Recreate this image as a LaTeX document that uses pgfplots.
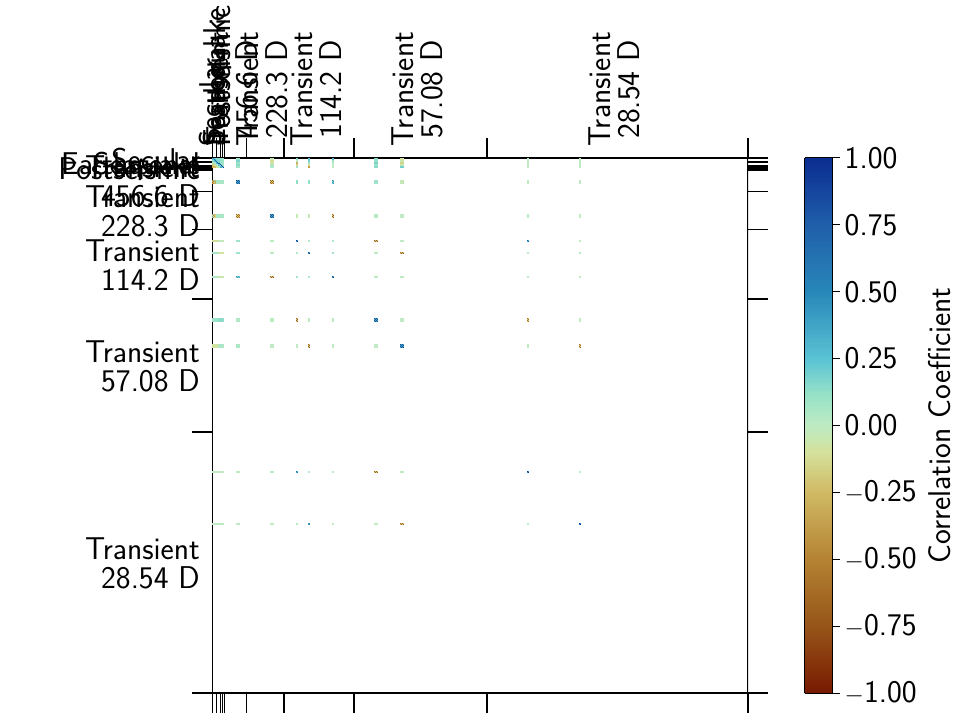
\documentclass[border=0pt]{standalone}
\usepackage{fontspec}
\usepackage{pgfplots}
\pgfplotsset{compat=1.18}
\renewcommand{\familydefault}{\sfdefault}
\newcommand{\lab}{\sffamily\fontsize{31.5}{29}\selectfont}

% block marks: size comes from the table, 1 unit is 1 pixel
\pgfdeclareplotmark{cell}{%
  \pgfpathrectangle{\pgfpoint{-0.5*\cellw pt}{-0.5*\cellh pt}}{\pgfpoint{\cellw pt}{\cellh pt}}%
  \pgfusepathqfill}
\pgfdeclareplotmark{pix}{%
  \pgfpathrectangle{\pgfpoint{-0.5pt}{-0.5pt}}{\pgfpoint{1pt}{1pt}}%
  \pgfusepathqfill}

\begin{document}
\begin{tikzpicture}
\path[use as bounding box] (0,0) rectangle (960pt,720pt);
\begin{axis}[
  at={(212pt,27pt)}, anchor=south west,
  scale only axis, width=536pt, height=535pt,
  xmin=0, xmax=536, ymin=0, ymax=535, y dir=reverse,
  axis line style={draw=none},
  tick pos=both, xticklabel pos=top, yticklabel pos=left,
  tick align=outside,
  major tick length=20pt, minor tick length=20pt,
  xtick={72,142,275,536}, xticklabels={},
  ytick={0,4,8,10,12,141,274,535}, yticklabels={},
  minor xtick={0.5,4.5,8.5,10.5,12.5,34.5},
  minor ytick={33.5,71.5},
  major tick style={black, line width=2pt},
  minor tick style={black, line width=1pt},
  extra x ticks={2,6,9,11,23,53,107,208.5,405.5},
  extra x tick labels={Secular,Seasonal,Earthquake,Postseismic,{Transient\\456.6 D},{Transient\\228.3 D},{Transient\\114.2 D},{Transient\\57.08 D},{Transient\\28.54 D}},
  extra x tick style={tick style={draw=none}, xticklabel style={rotate=90, anchor=west, align=center, font=\lab, inner sep=0pt, xshift=-9pt, yshift=3pt}},
  extra y ticks={2,6,9,11,23,53,107,208,405},
  extra y tick labels={Secular,Seasonal,Earthquake,Postseismic,{Transient\\456.6 D},{Transient\\228.3 D},{Transient\\114.2 D},{Transient\\57.08 D},{Transient\\28.54 D}},
  extra y tick style={tick style={draw=none}, yticklabel style={anchor=east, align=right, font=\lab, inner sep=0pt, xshift=8pt}},
  colormap={corr}{
    rgb255(0pt)=(120,25,0);
    rgb255(25pt)=(150,85,25);
    rgb255(50pt)=(180,130,50);
    rgb255(75pt)=(208,185,100);
    rgb255(90pt)=(212,225,155);
    rgb255(100pt)=(190,235,195);
    rgb255(112pt)=(150,225,200);
    rgb255(125pt)=(90,195,212);
    rgb255(150pt)=(40,135,185);
    rgb255(175pt)=(32,95,170);
    rgb255(200pt)=(10,45,145)},
  point meta min=-1, point meta max=1,
  colorbar sampled,
  colorbar right,
  colorbar style={
    samples=256,
    width=28pt, xshift=27pt,
    tick pos=right, yticklabel pos=right,
    ytick={-1,-0.75,-0.5,-0.25,0,0.25,0.5,0.75,1},
    yticklabels={$-$1.00,$-$0.75,$-$0.50,$-$0.25,0.00,0.25,0.50,0.75,1.00},
    yticklabel style={font=\lab, anchor=west, inner sep=0pt, xshift=5pt},
    tick align=outside, major tick length=7pt,
    major tick style={black, line width=1pt},
    axis line style={black, line width=1pt},
    ylabel={Correlation Coefficient},
    ylabel shift=8pt,
    ylabel style={font=\lab},
  },
]
\addplot[scatter, only marks, mark=cell,
  scatter/use mapped color={draw=none, fill=mapped color},
  visualization depends on={\thisrow{w}\as\cellw},
  visualization depends on={\thisrow{h}\as\cellh},
  scatter src=explicit]
  table[row sep=\\, x=x, y=y, meta=c] {
x y w h c\\
1 1 2 2 .25\\ 3 1 2 2 .25\\ 5 1 2 2 .15\\ 7 1 2 2 .15\\ 9 1 2 2 .12\\ 11 1 2 2 .12\\
1 3 2 2 .15\\ 3 3 2 2 .3\\ 5 3 2 2 .2\\ 7 3 2 2 .15\\ 9 3 2 2 .12\\ 11 3 2 2 .1\\
1 5 2 2 .05\\ 3 5 2 2 .1\\ 5 5 2 2 .3\\ 7 5 2 2 .2\\ 9 5 2 2 .12\\ 11 5 2 2 .08\\
1 7 2 2 -.2\\ 3 7 2 2 -.1\\ 5 7 2 2 .05\\ 7 7 2 2 .25\\ 9 7 2 2 .15\\ 11 7 2 2 .1\\
1 9 2 2 -.3\\ 3 9 2 2 -.25\\ 5 9 2 2 -.1\\ 7 9 2 2 .05\\ 9 9 2 2 .3\\ 11 9 2 2 .15\\
26 1 4 2 .12\\ 26 3 4 2 .18\\ 26 5 4 2 .1\\ 26 7 4 2 .14\\ 26 9 4 2 .08\\
60 1 4 2 -.05\\ 60 3 4 2 -.12\\ 60 5 4 2 -.08\\ 60 7 4 2 .05\\ 60 9 4 2 .02\\
85 1 2 2 .15\\ 85 3 2 2 0\\ 85 5 2 2 -.3\\ 85 7 2 2 -.15\\ 85 9 2 2 .08\\
97 1 2 2 .25\\ 97 3 2 2 .2\\ 97 5 2 2 .1\\ 97 7 2 2 -.1\\ 97 9 2 2 -.4\\
121 1 2 2 .3\\ 121 3 2 2 .1\\ 121 5 2 2 .02\\ 121 7 2 2 0\\ 121 9 2 2 0\\
164 1 4 2 .15\\ 164 3 4 2 .1\\ 164 5 4 2 .18\\ 164 7 4 2 .1\\ 164 9 4 2 .15\\
190 1 4 2 -.1\\ 190 3 4 2 -.05\\ 190 5 4 2 -.15\\ 190 7 4 2 -.05\\ 190 9 4 2 .2\\
316 5 2 10 0\\ 368 5 2 10 0\\
2 24 4 4 -.3\\ 8 24 8 4 .06\\ 2 58 4 4 -.15\\ 8 58 8 4 .06\\
3 83 6 2 -.12\\ 9 83 6 2 -.02\\ 3 95 6 2 .08\\ 9 95 6 2 -.08\\
3 119 6 2 .05\\ 9 119 6 2 -.05\\ 3 162 6 4 .1\\ 9 162 6 4 .14\\
3 188 6 4 -.08\\ 9 188 6 4 .05\\ 6 314 12 2 0\\ 6 366 12 2 0\\
26 24 4 4 .35\\ 60 24 4 4 -.2\\ 85 24 2 4 .13\\ 97 24 2 4 .13\\ 121 24 2 4 .2\\ 164 24 4 4 .1\\ 190 24 4 4 -.03\\ 316 24 2 4 0\\ 368 24 2 4 0\\
26 58 4 4 -.2\\ 60 58 4 4 .35\\ 85 58 2 4 -.03\\ 97 58 2 4 -.03\\ 121 58 2 4 -.2\\ 164 58 4 4 .02\\ 190 58 4 4 0\\ 316 58 2 4 0\\ 368 58 2 4 0\\
26 83 4 2 .1\\ 60 83 4 2 0\\ 85 83 2 2 .4\\ 97 83 2 2 .02\\ 121 83 2 2 .05\\ 164 83 4 2 -.2\\ 190 83 4 2 0\\ 316 83 2 2 .35\\ 368 83 2 2 0\\
26 95 4 2 .1\\ 60 95 4 2 0\\ 85 95 2 2 .03\\ 97 95 2 2 .4\\ 121 95 2 2 .08\\ 164 95 4 2 0\\ 190 95 4 2 -.2\\ 316 95 2 2 0\\ 368 95 2 2 .02\\
26 119 4 2 .2\\ 60 119 4 2 -.2\\ 85 119 2 2 .08\\ 97 119 2 2 .05\\ 121 119 2 2 .4\\ 164 119 4 2 0\\ 190 119 4 2 0\\ 316 119 2 2 0\\ 368 119 2 2 0\\
26 162 4 4 .03\\ 60 162 4 4 0\\ 85 162 2 4 -.2\\ 97 162 2 4 0\\ 121 162 2 4 0\\ 164 162 4 4 .35\\ 190 162 4 4 0\\ 316 162 2 4 -.2\\ 368 162 2 4 0\\
26 188 4 4 .05\\ 60 188 4 4 0\\ 85 188 2 4 0\\ 97 188 2 4 -.2\\ 121 188 2 4 0\\ 164 188 4 4 0\\ 190 188 4 4 .35\\ 316 188 2 4 0\\ 368 188 2 4 -.2\\
26 314 4 2 0\\ 60 314 4 2 0\\ 85 314 2 2 .35\\ 97 314 2 2 .02\\ 121 314 2 2 0\\ 164 314 4 2 -.2\\ 190 314 4 2 0\\ 316 314 2 2 .5\\ 368 314 2 2 0\\
26 366 4 2 0\\ 60 366 4 2 0\\ 85 366 2 2 .02\\ 97 366 2 2 .35\\ 121 366 2 2 0\\ 164 366 4 2 0\\ 190 366 4 2 -.2\\ 316 366 2 2 0\\ 368 366 2 2 .5\\
};
% strong single pixels: the diagonal and the checkered blocks
\addplot[scatter, only marks, mark=pix,
  scatter/use mapped color={draw=none, fill=mapped color},
  scatter src=explicit]
  table[row sep=\\, x=x, y=y, meta=c] {
x y c\\
1.5 .5 .5\\ 2.5 1.5 .6\\ 3.5 2.5 .7\\ 4.5 3.5 .7\\ 5.5 4.5 .8\\ 6.5 5.5 .85\\ 7.5 5.5 .85\\ 8.5 6.5 .9\\ 9.5 7.5 .9\\ 10.5 8.5 .95\\ 11.5 9.5 .95\\
.5 22.5 -.6\\ 2.5 22.5 .2\\ 1.5 23.5 -.5\\ .5 24.5 -.6\\ 2.5 24.5 .15\\ 1.5 25.5 -.5\\
.5 56.5 .3\\ 2.5 56.5 -.4\\ 1.5 57.5 -.5\\ .5 58.5 .3\\ 2.5 58.5 -.4\\ 1.5 59.5 -.4\\
24.5 22.5 .85\\ 26.5 22.5 .85\\ 25.5 23.5 .85\\ 27.5 23.5 .85\\ 24.5 24.5 .85\\ 26.5 24.5 .85\\ 25.5 25.5 .85\\ 27.5 25.5 .85\\
58.5 56.5 .85\\ 60.5 56.5 .85\\ 59.5 57.5 .85\\ 61.5 57.5 .85\\ 58.5 58.5 .85\\ 60.5 58.5 .85\\ 59.5 59.5 .85\\ 61.5 59.5 .85\\
58.5 22.5 -.65\\ 60.5 22.5 -.65\\ 59.5 23.5 -.65\\ 61.5 23.5 -.65\\ 58.5 24.5 -.65\\ 60.5 24.5 -.65\\ 59.5 25.5 -.65\\ 61.5 25.5 -.65\\
24.5 56.5 -.6\\ 26.5 56.5 -.6\\ 25.5 57.5 -.6\\ 27.5 57.5 -.6\\ 24.5 58.5 -.6\\ 26.5 58.5 -.6\\ 25.5 59.5 -.6\\ 27.5 59.5 -.6\\
162.5 160.5 .85\\ 164.5 160.5 .85\\ 163.5 161.5 .85\\ 165.5 161.5 .85\\ 162.5 162.5 .85\\ 164.5 162.5 .85\\ 163.5 163.5 .85\\ 165.5 163.5 .85\\
188.5 186.5 .85\\ 190.5 186.5 .85\\ 189.5 187.5 .85\\ 191.5 187.5 .85\\ 188.5 188.5 .85\\ 190.5 188.5 .85\\ 189.5 189.5 .85\\ 191.5 189.5 .85\\
84.5 82.5 .95\\ 85.5 83.5 .95\\ 96.5 94.5 .95\\ 97.5 95.5 .95\\ 120.5 118.5 .95\\ 121.5 119.5 .95\\
315.5 313.5 .95\\ 316.5 314.5 .95\\ 367.5 365.5 .95\\ 368.5 366.5 .95\\
162.5 82.5 -.7\\ 164.5 82.5 -.7\\ 163.5 83.5 -.7\\ 165.5 83.5 -.7\\
188.5 94.5 -.7\\ 190.5 94.5 -.7\\ 189.5 95.5 -.7\\ 191.5 95.5 -.7\\
58.5 118.5 -.7\\ 60.5 118.5 -.7\\ 59.5 119.5 -.7\\ 61.5 119.5 -.7\\
162.5 313.5 -.65\\ 164.5 313.5 -.65\\ 163.5 314.5 -.65\\ 165.5 314.5 -.65\\
188.5 365.5 -.65\\ 190.5 365.5 -.65\\ 189.5 366.5 -.65\\ 191.5 366.5 -.65\\
24.5 118.5 .4\\ 26.5 118.5 .4\\ 25.5 119.5 .4\\ 27.5 119.5 .4\\
120.5 22.5 .45\\ 121.5 23.5 .45\\ 120.5 24.5 .45\\ 121.5 25.5 .45\\
120.5 56.5 -.7\\ 121.5 57.5 -.7\\ 120.5 58.5 -.7\\ 121.5 59.5 -.7\\
84.5 160.5 -.7\\ 85.5 161.5 -.7\\ 84.5 162.5 -.7\\ 85.5 163.5 -.7\\
96.5 186.5 -.7\\ 97.5 187.5 -.7\\ 96.5 188.5 -.7\\ 97.5 189.5 -.7\\
315.5 160.5 -.6\\ 316.5 161.5 -.6\\ 315.5 162.5 -.6\\ 316.5 163.5 -.6\\
367.5 186.5 -.6\\ 368.5 187.5 -.6\\ 367.5 188.5 -.6\\ 368.5 189.5 -.6\\
315.5 82.5 .7\\ 316.5 83.5 .7\\ 84.5 313.5 .6\\ 85.5 314.5 .6\\ 96.5 365.5 .6\\ 97.5 366.5 .6\\
};
\draw[black, line width=2pt] (rel axis cs:0,0) -- (rel axis cs:1,0);
\draw[black, line width=2pt] (rel axis cs:1,0) -- (rel axis cs:1,1);
\draw[black, line width=2pt] (rel axis cs:0,1) -- (rel axis cs:1,1);
\draw[black, line width=1pt] ([xshift=.5pt]rel axis cs:0,0) -- ([xshift=.5pt]rel axis cs:0,1);
\end{axis}
\end{tikzpicture}
\end{document}
